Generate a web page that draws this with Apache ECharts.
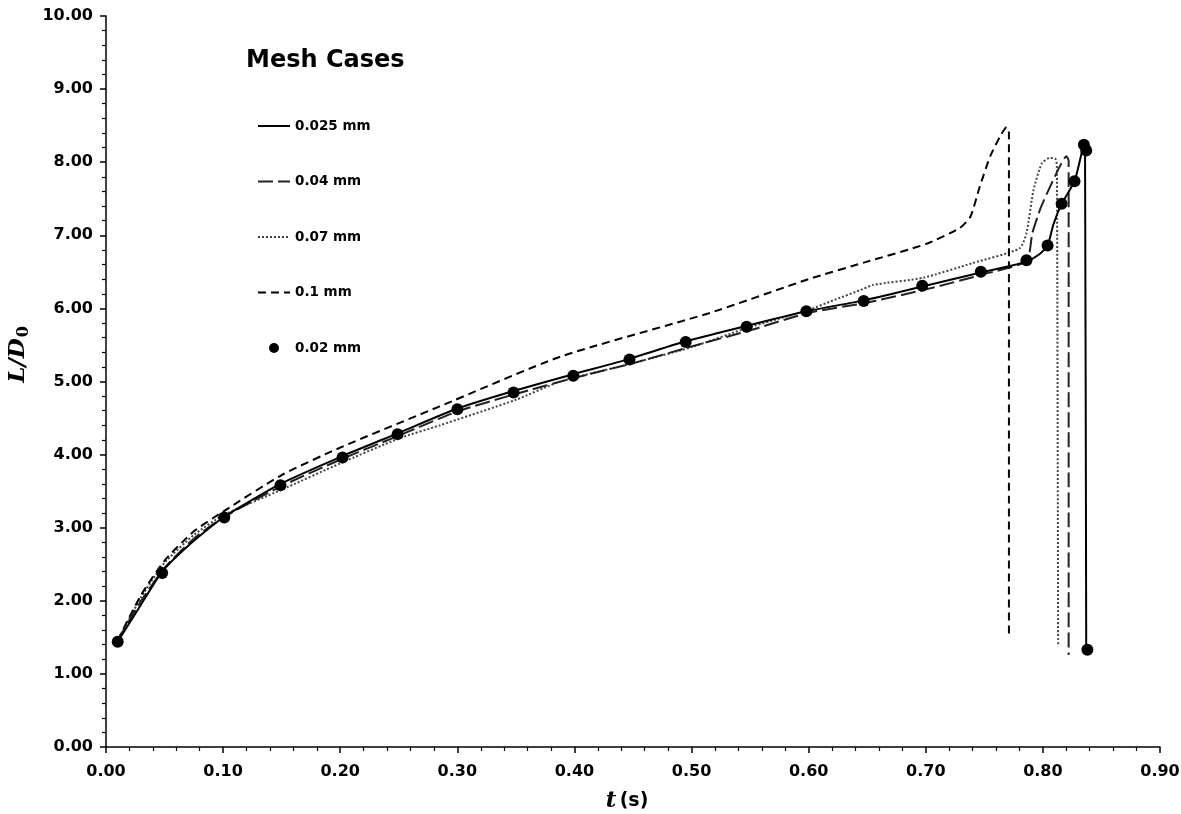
<!DOCTYPE html>
<html>
<head>
<meta charset="utf-8">
<script src="https://cdn.jsdelivr.net/npm/echarts@6/dist/echarts.min.js"></script>
<style type="text/css">
    html, body { margin: 0; padding: 0; background: #fff; }
    #chart_main { width: 1181px; height: 814px; }
</style>
</head>
<body>
<div id="chart_main"></div>
<script>
    // mesh cases, t (s) vs L/D0
    var t_025 = [0.010, 0.030, 0.048, 0.075, 0.101, 0.149, 0.202, 0.249, 0.300, 0.348, 0.399, 0.447, 0.495, 0.547, 0.598, 0.647, 0.697, 0.747, 0.772, 0.786, 0.797, 0.804, 0.809, 0.816, 0.827, 0.833, 0.835, 0.836, 0.837];
    var L_025 = [1.44, 1.95, 2.40, 2.82, 3.15, 3.60, 3.98, 4.29, 4.63, 4.87, 5.10, 5.31, 5.55, 5.76, 5.96, 6.11, 6.30, 6.49, 6.58, 6.64, 6.74, 6.86, 7.15, 7.43, 7.74, 8.12, 8.24, 8.10, 1.35];

    var t_04 = [0.010, 0.030, 0.050, 0.075, 0.100, 0.150, 0.200, 0.250, 0.300, 0.350, 0.400, 0.450, 0.500, 0.550, 0.600, 0.650, 0.700, 0.750, 0.786, 0.791, 0.798, 0.806, 0.815, 0.820, 0.822, 0.822];
    var L_04 = [1.46, 2.00, 2.45, 2.85, 3.14, 3.57, 3.93, 4.26, 4.59, 4.83, 5.05, 5.25, 5.48, 5.70, 5.94, 6.08, 6.26, 6.47, 6.65, 7.03, 7.37, 7.66, 7.96, 8.08, 8.02, 1.26];

    var t_07 = [0.010, 0.030, 0.050, 0.075, 0.100, 0.150, 0.200, 0.250, 0.285, 0.350, 0.388, 0.450, 0.500, 0.547, 0.600, 0.621, 0.644, 0.655, 0.698, 0.740, 0.780, 0.786, 0.792, 0.799, 0.806, 0.811, 0.812, 0.813];
    var L_07 = [1.46, 2.05, 2.52, 2.90, 3.17, 3.52, 3.88, 4.22, 4.40, 4.75, 5.00, 5.25, 5.47, 5.73, 5.98, 6.11, 6.25, 6.32, 6.42, 6.62, 6.82, 7.03, 7.62, 7.98, 8.06, 8.04, 7.90, 1.40];

    var t_1 = [0.010, 0.030, 0.050, 0.075, 0.100, 0.150, 0.202, 0.285, 0.388, 0.516, 0.600, 0.650, 0.700, 0.729, 0.738, 0.746, 0.755, 0.764, 0.769, 0.771, 0.771];
    var L_1 = [1.46, 2.08, 2.55, 2.95, 3.22, 3.72, 4.11, 4.66, 5.34, 5.94, 6.40, 6.64, 6.88, 7.10, 7.25, 7.66, 8.08, 8.37, 8.48, 8.40, 1.49];

    var t_02 = [0.010, 0.048, 0.101, 0.149, 0.202, 0.249, 0.300, 0.348, 0.399, 0.447, 0.495, 0.547, 0.598, 0.647, 0.697, 0.747, 0.786, 0.804, 0.816, 0.827, 0.835, 0.837, 0.838];
    var L_02 = [1.44, 2.38, 3.14, 3.58, 3.96, 4.28, 4.62, 4.85, 5.08, 5.30, 5.54, 5.75, 5.96, 6.10, 6.31, 6.50, 6.66, 6.86, 7.43, 7.74, 8.24, 8.16, 1.33];

    var caseNames = ['0.025 mm', '0.04 mm', '0.07 mm', '0.1 mm', '0.02 mm'];

    function pairUp(xs, ys) {
        var out = [];
        for (var i = 0; i < xs.length; i++) {
            out.push([xs[i], ys[i]]);
        }
        return out;
    }

    var sansBold = '"DejaVu Sans", "Liberation Sans", Arial, sans-serif';
    var serifFont = '"DejaVu Serif", "Liberation Serif", "Times New Roman", serif';

    // line cases show only the line in the legend, the dot case shows its dot
    var legendData = caseNames.map(function (n, i) {
        if (i < 4) {
            return { name: n, itemStyle: { opacity: 0 } };
        }
        return { name: n };
    });

    var myChart = echarts.init(document.getElementById('chart_main'));

    var option = {
        backgroundColor: '#ffffff',
        animation: false,
        title: {
            text: 'Mesh Cases',
            left: 241,
            top: 44,
            textStyle: { fontFamily: sansBold, fontSize: 24, fontWeight: 'bold', color: '#000' }
        },
        legend: {
            orient: 'vertical',
            left: 252,
            top: 114,
            itemWidth: 32,
            itemHeight: 10,
            itemGap: 41.5,
            data: legendData,
            textStyle: { fontFamily: sansBold, fontSize: 13.5, fontWeight: 'bold', color: '#000' }
        },
        grid: {
            left: 106,
            right: 21,
            top: 16,
            bottom: 67,
            containLabel: false,
            outerBoundsMode: 'none'
        },
        xAxis: {
            type: 'value',
            min: 0,
            max: 0.9,
            interval: 0.1,
            name: '{t|t} {s|(s)}',
            nameLocation: 'middle',
            nameGap: 43,
            nameTextStyle: {
                padding: [0, 12, 0, 0],
                rich: {
                    t: { fontFamily: serifFont, fontStyle: 'italic', fontWeight: 'bold', fontSize: 23, color: '#000' },
                    s: { fontFamily: sansBold, fontWeight: 'bold', fontSize: 19, color: '#000' }
                }
            },
            axisLine: { lineStyle: { color: '#000', width: 1.5 } },
            axisTick: { show: true, inside: false, length: 6, lineStyle: { color: '#000', width: 1.5 } },
            minorTick: { show: true, splitNumber: 5, length: 4, lineStyle: { color: '#000', width: 1.2 } },
            splitLine: { show: false },
            axisLabel: {
                margin: 17,
                fontFamily: sansBold,
                fontSize: 16,
                fontWeight: 'bold',
                color: '#000',
                formatter: function (v) { return v.toFixed(2); }
            }
        },
        yAxis: {
            type: 'value',
            min: 0,
            max: 10,
            interval: 1,
            name: '{l|L/D}{sub|0}',
            nameLocation: 'middle',
            nameGap: 56,
            nameTextStyle: {
                padding: [0, 0, 0, 54],
                rich: {
                    l: { fontFamily: serifFont, fontStyle: 'italic', fontWeight: 'bold', fontSize: 23, color: '#000' },
                    sub: { fontFamily: serifFont, fontWeight: 'bold', fontSize: 16, color: '#000', verticalAlign: 'bottom', padding: [10, 0, 0, 1] }
                }
            },
            axisLine: { show: true, lineStyle: { color: '#000', width: 1.5 } },
            axisTick: { show: true, inside: false, length: 6, lineStyle: { color: '#000', width: 1.5 } },
            minorTick: { show: true, splitNumber: 5, length: 4, lineStyle: { color: '#000', width: 1.2 } },
            splitLine: { show: false },
            axisLabel: {
                margin: 13,
                fontFamily: sansBold,
                fontSize: 16,
                fontWeight: 'bold',
                color: '#000',
                formatter: function (v) { return v.toFixed(2); }
            }
        },
        series: [
            {
                name: caseNames[0],
                type: 'line',
                symbol: 'none',
                smooth: 0.2,
                data: pairUp(t_025, L_025),
                lineStyle: { color: '#000', width: 2, type: 'solid' },
                itemStyle: { color: '#000' },
                z: 4
            },
            {
                name: caseNames[1],
                type: 'line',
                symbol: 'none',
                smooth: 0.2,
                data: pairUp(t_04, L_04),
                lineStyle: { color: '#222', width: 2, type: [15, 5] },
                itemStyle: { color: '#222' },
                z: 3
            },
            {
                name: caseNames[2],
                type: 'line',
                symbol: 'none',
                smooth: 0.2,
                data: pairUp(t_07, L_07),
                lineStyle: { color: '#444', width: 2, type: [2, 2] },
                itemStyle: { color: '#444' },
                z: 2
            },
            {
                name: caseNames[3],
                type: 'line',
                symbol: 'none',
                smooth: 0.2,
                data: pairUp(t_1, L_1),
                lineStyle: { color: '#000', width: 2, type: [8, 5] },
                itemStyle: { color: '#000' },
                z: 2
            },
            {
                name: caseNames[4],
                type: 'scatter',
                symbol: 'circle',
                symbolSize: 12,
                data: pairUp(t_02, L_02),
                itemStyle: { color: '#000', opacity: 1 },
                z: 5
            }
        ]
    };

    myChart.setOption(option);
</script>
</body>
</html>
